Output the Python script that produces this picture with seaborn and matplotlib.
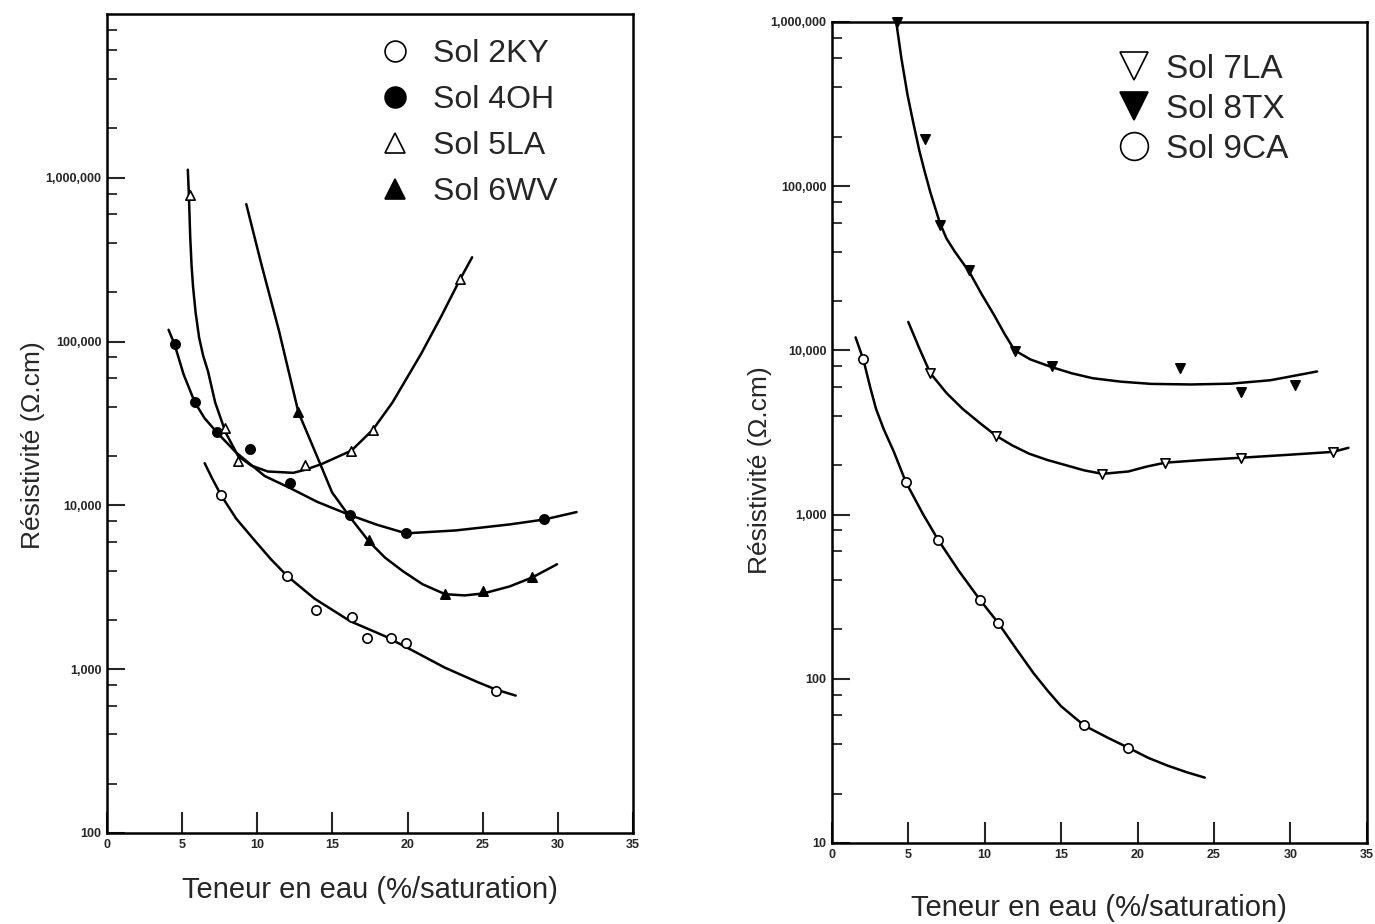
import pandas as pd
import matplotlib.pyplot as plt
import seaborn as sns
from matplotlib.lines import Line2D
from matplotlib.ticker import LogLocator, NullFormatter

# ---- left panel : measured points and drawn curves ----
sol2ky_x = [7.6, 12.0, 13.9, 16.3, 17.3, 18.9, 19.9, 25.9]
sol2ky_y = [11500, 3700, 2300, 2090, 1550, 1550, 1450, 740]
crv2ky_x = [6.5, 7.0, 7.6, 8.6, 9.8, 10.9, 12.0, 13.8, 16.2, 18.5, 20.2, 22.5, 24.65, 25.9, 27.2]
crv2ky_y = [18100, 14600, 11500, 8300, 6150, 4700, 3700, 2700, 1960, 1590, 1320, 1020, 835, 750, 690]

sol4oh_x = [4.5, 5.85, 7.3, 9.5, 12.15, 16.2, 19.9, 29.1]
sol4oh_y = [96000, 42500, 28000, 22000, 13600, 8700, 6750, 8200]
crv4oh_x = [4.1, 4.5, 5.1, 5.85, 6.5, 7.3, 8.6, 10.5, 12.15, 14.0, 16.2, 18.0, 19.9, 23.2,
            26.8, 29.1, 31.25]
crv4oh_y = [118000, 96000, 63000, 42500, 34000, 28000, 21000, 15100, 12800, 10500, 8700,
            7600, 6750, 7030, 7650, 8200, 9100]

sol5la_x = [5.5, 7.85, 8.73, 13.16, 16.27, 17.7, 23.5]
sol5la_y = [790000, 29600, 18700, 17700, 21500, 29000, 240000]
crv5la_x = [5.38, 5.45, 5.54, 5.63, 5.73, 5.9, 6.13, 6.4, 6.72, 7.2, 7.9, 8.73, 9.6, 10.7,
            12.4, 13.2, 14.3, 16.27, 17.7, 19.0, 20.9, 22.2, 23.5, 24.3]
crv5la_y = [1120000, 790000, 435000, 290000, 215000, 150000, 106000, 82000, 66000, 42500,
            27800, 20000, 17500, 16100, 15800, 16500, 17900, 21600, 29000, 42500, 84000,
            140000, 240000, 327000]

sol6wv_x = [12.74, 17.45, 22.5, 25.05, 28.3]
sol6wv_y = [37000, 6150, 2870, 3020, 3630]
crv6wv_x = [9.27, 10.26, 11.44, 12.74, 13.8, 14.98, 16.16, 17.45, 18.5, 19.7, 21.0, 22.5,
            23.8, 25.05, 26.8, 28.3, 29.95]
crv6wv_y = [690000, 300000, 117000, 37000, 21800, 12000, 8500, 6000, 4800, 3960, 3300, 2870,
            2820, 2900, 3200, 3630, 4370]

# ---- right panel ----
sol7la_x = [6.44, 10.77, 17.7, 21.8, 26.8, 32.8]
sol7la_y = [7270, 3010, 1770, 2070, 2220, 2410]
crv7la_x = [5.0, 5.7, 6.44, 7.5, 8.56, 9.7, 10.77, 11.8, 12.9, 14.1, 15.3, 16.5, 17.7, 19.4,
            20.6, 21.8, 24.3, 26.8, 29.8, 32.8, 33.8]
crv7la_y = [14900, 10400, 7270, 5500, 4400, 3600, 3010, 2640, 2350, 2150, 2000, 1860, 1770,
            1830, 1960, 2070, 2150, 2220, 2310, 2410, 2550]

sol8tx_x = [4.23, 6.1, 7.06, 9.0, 11.96, 14.4, 22.8, 26.8, 30.3]
sol8tx_y = [1000000, 195000, 58000, 31000, 9900, 8000, 7800, 5600, 6150]
crv8tx_x = [4.18, 4.55, 4.95, 5.3, 5.72, 6.05, 6.44, 7.06, 7.5, 8.04, 9.0, 9.8, 10.6, 11.3,
            11.96, 13.0, 14.4, 15.7, 17.06, 18.9, 20.9, 23.5, 26.1, 28.7, 31.75]
crv8tx_y = [1050000, 600000, 360000, 250000, 165000, 125000, 92000, 60000, 48000, 40000,
            30000, 22000, 16500, 12600, 10000, 8800, 7900, 7250, 6770, 6450, 6250, 6200,
            6270, 6580, 7440]

sol9ca_x = [2.06, 4.85, 6.96, 9.72, 10.88, 16.5, 19.4]
sol9ca_y = [8800, 1570, 700, 300, 219, 52, 38]
crv9ca_x = [1.55, 2.06, 2.5, 2.89, 3.4, 4.05, 4.85, 5.98, 6.96, 8.3, 9.72, 10.88, 12.0,
            13.2, 14.1, 15.0, 16.5, 18.0, 19.4, 20.7, 21.96, 23.2, 24.4]
crv9ca_y = [12000, 8800, 6000, 4400, 3300, 2420, 1570, 1000, 700, 455, 300, 219, 155,
            108, 85, 68, 52, 44, 38, 33, 29.6, 27, 25]

x_ticks = [0, 5, 10, 15, 20, 25, 30, 35]
left_yticks = [100, 1000, 10000, 100000, 1000000]
left_ylabels = ['100', '1,000', '10,000', '100,000', '1,000,000']
right_yticks = [10, 100, 1000, 10000, 100000, 1000000]
right_ylabels = ['10', '100', '1,000', '10,000', '100,000', '1,000,000']

left_names = ['Sol 2KY', 'Sol 4OH', 'Sol 5LA', 'Sol 6WV']
right_names = ['Sol 7LA', 'Sol 8TX', 'Sol 9CA']

sns.set_style('white')
plt.rcParams['font.family'] = ['Liberation Sans', 'DejaVu Sans']


def draw_series(ax, px, py, cx, cy, marker, filled):
    crv = pd.DataFrame({'x': cx, 'y': cy})
    pts = pd.DataFrame({'x': px, 'y': py})
    sns.lineplot(data=crv, x='x', y='y', sort=False, color='black', linewidth=1.8, ax=ax)
    sns.scatterplot(data=pts, x='x', y='y', marker=marker, s=45,
                    color='black' if filled else 'white', edgecolor='black',
                    linewidth=1.2, zorder=3, clip_on=False, ax=ax)


def style_axes(ax, ymin, ymax, yticks, ylabels):
    ax.set_yscale('log')
    ax.set_xlim(0, 35)
    ax.set_ylim(ymin, ymax)
    ax.set_xticks(x_ticks)
    ax.set_xticklabels([str(t) for t in x_ticks])
    ax.set_yticks(yticks)
    ax.set_yticklabels(ylabels)
    ax.yaxis.set_minor_locator(LogLocator(base=10, subs=[2, 4, 6, 8]))
    ax.yaxis.set_minor_formatter(NullFormatter())
    ax.tick_params(axis='y', which='major', direction='in', length=13, width=1.5,
                   left=True, right=False, pad=4)
    ax.tick_params(axis='y', which='minor', direction='in', length=7, width=1.3,
                   left=True, right=False)
    ax.tick_params(axis='x', which='both', direction='in', length=15, width=1.5,
                   bottom=True, top=False, pad=4)
    for lab in ax.get_xticklabels() + ax.get_yticklabels():
        lab.set_fontfamily(['Liberation Sans Narrow', 'Liberation Sans'])
        lab.set_fontweight('bold')
        lab.set_fontsize(9)
    for sp in ax.spines.values():
        sp.set_linewidth(1.8)
        sp.set_color('black')
    ax.set_xlabel('Teneur en eau (%/saturation)', fontsize=21)
    ax.set_ylabel('Résistivité (Ω.cm)', fontsize=19)


def legend_handles(markers, fills, size):
    return [Line2D([], [], linestyle='', marker=m, markersize=size,
                   markerfacecolor='black' if f else 'white',
                   markeredgecolor='black', markeredgewidth=1.2)
            for m, f in zip(markers, fills)]


fig = plt.figure(figsize=(13.75, 9.24), dpi=100)
ax1 = fig.add_axes([0.0778, 0.0985, 0.3825, 0.8864])
ax2 = fig.add_axes([0.605, 0.0877, 0.389, 0.8885])

draw_series(ax1, sol2ky_x, sol2ky_y, crv2ky_x, crv2ky_y, 'o', False)
draw_series(ax1, sol4oh_x, sol4oh_y, crv4oh_x, crv4oh_y, 'o', True)
draw_series(ax1, sol5la_x, sol5la_y, crv5la_x, crv5la_y, '^', False)
draw_series(ax1, sol6wv_x, sol6wv_y, crv6wv_x, crv6wv_y, '^', True)
style_axes(ax1, 100, 1e7, left_yticks, left_ylabels)

draw_series(ax2, sol7la_x, sol7la_y, crv7la_x, crv7la_y, 'v', False)
draw_series(ax2, sol8tx_x, sol8tx_y, crv8tx_x, crv8tx_y, 'v', True)
draw_series(ax2, sol9ca_x, sol9ca_y, crv9ca_x, crv9ca_y, 'o', False)
style_axes(ax2, 10, 1e6, right_yticks, right_ylabels)

ax1.xaxis.set_label_coords(0.5, -0.052)
ax1.yaxis.set_label_coords(-0.118, 0.474)
ax2.xaxis.set_label_coords(0.5, -0.062)
ax2.yaxis.set_label_coords(-0.112, 0.454)

ax1.legend(legend_handles(['o', 'o', '^', '^'], [False, True, False, True], 15), left_names,
           loc='upper left', bbox_to_anchor=(0.475, 0.997), frameon=False, fontsize=23,
           handlelength=1.0, handletextpad=0.68, labelspacing=0.5, borderpad=0.2)
ax2.legend(legend_handles(['v', 'v', 'o'], [False, True, False], 20), right_names,
           loc='upper left', bbox_to_anchor=(0.49, 0.99), frameon=False, fontsize=24,
           handlelength=1.0, handletextpad=0.45, labelspacing=0.27, borderpad=0.2)

fig.savefig('out.png', dpi=100)
